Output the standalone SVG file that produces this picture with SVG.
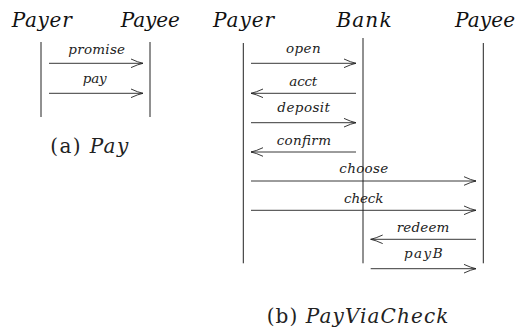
<svg xmlns="http://www.w3.org/2000/svg" width="524" height="333" viewBox="0 0 524 333">
<style>
.title{font-family:"DejaVu Serif",serif;font-style:italic;font-size:20px;fill:#111;text-anchor:middle}
.lbl{font-family:"DejaVu Serif",serif;font-style:italic;font-size:13.5px;fill:#222;text-anchor:middle}
.cap{font-family:"DejaVu Serif",serif;font-size:20px;fill:#222;text-anchor:middle}
.cap tspan.i{font-style:italic}
.life{stroke:#222;stroke-width:1;fill:none}
.msg{stroke:#222;stroke-width:0.9;fill:none;marker-end:url(#ah)}
</style>
<defs>
<marker id="ah" markerUnits="userSpaceOnUse" viewBox="-13 -5 14 10" refX="0" refY="0" markerWidth="14" markerHeight="10" orient="auto" overflow="visible">
<path d="M-12,-4.3 Q-5,-1 0,0 Q-5,1 -12,4.3" fill="none" stroke="#222" stroke-width="0.9"/>
</marker>
</defs>
<rect width="524" height="333" fill="#fff"/>
<g id="pay-diagram">
<g id="a-payer"><text class="title" x="41.7" y="26.7" textLength="60" lengthAdjust="spacing">Payer</text><line class="life" x1="41" y1="42" x2="41" y2="117"/></g>
<g id="a-payee"><text class="title" x="150.3" y="26.7" textLength="59" lengthAdjust="spacing">Payee</text><line class="life" x1="150" y1="42" x2="150" y2="117"/></g>
<g id="a-connectors">
<line class="msg" x1="49" y1="63.3" x2="143" y2="63.3"/>
<text class="lbl" x="96.7" y="53.5" textLength="56.7" lengthAdjust="spacing">promise</text>
<line class="msg" x1="49" y1="93.3" x2="143" y2="93.3"/>
<text class="lbl" x="94.7" y="83.3" textLength="24" lengthAdjust="spacing">pay</text>
</g>
<text id="a-caption" class="cap" x="89.2" y="153.3" textLength="78" lengthAdjust="spacing">(a) <tspan class="i">Pay</tspan></text>
</g>
<g id="payviacheck-diagram">
<g id="b-payer"><text class="title" x="243.5" y="26.7" textLength="61" lengthAdjust="spacing">Payer</text><line class="life" x1="243.3" y1="43" x2="243.3" y2="263.3"/></g>
<g id="b-bank"><text class="title" x="364" y="26.7" textLength="55" lengthAdjust="spacing">Bank</text><line class="life" x1="363" y1="38" x2="363" y2="263.3"/></g>
<g id="b-payee"><text class="title" x="485" y="26.7" textLength="60" lengthAdjust="spacing">Payee</text><line class="life" x1="483.3" y1="43" x2="483.3" y2="263.3"/></g>
<g id="b-connectors">
<line class="msg" x1="251" y1="63.3" x2="356" y2="63.3"/>
<text class="lbl" x="303.3" y="53.3" textLength="34.7" lengthAdjust="spacing">open</text>
<line class="msg" x1="356" y1="93.3" x2="251" y2="93.3"/>
<text class="lbl" x="303.3" y="86" textLength="28" lengthAdjust="spacing">acct</text>
<line class="msg" x1="251" y1="122.7" x2="356" y2="122.7"/>
<text class="lbl" x="303.7" y="112" textLength="52.7" lengthAdjust="spacing">deposit</text>
<line class="msg" x1="356" y1="152" x2="251" y2="152"/>
<text class="lbl" x="303.8" y="144.5" textLength="54.3" lengthAdjust="spacing">confirm</text>
<line class="msg" x1="251" y1="181" x2="476" y2="181"/>
<text class="lbl" x="363.8" y="173.3" textLength="49" lengthAdjust="spacing">choose</text>
<line class="msg" x1="251" y1="210.3" x2="476" y2="210.3"/>
<text class="lbl" x="363.7" y="202.5" textLength="39.3" lengthAdjust="spacing">check</text>
<line class="msg" x1="476" y1="239.3" x2="370.7" y2="239.3"/>
<text class="lbl" x="423" y="232.3" textLength="52.7" lengthAdjust="spacing">redeem</text>
<line class="msg" x1="370.7" y1="268.7" x2="476" y2="268.7"/>
<text class="lbl" x="423.3" y="257.5" textLength="38.7" lengthAdjust="spacing">payB</text>
</g>
<text id="b-caption" class="cap" x="357.5" y="323" textLength="181.7" lengthAdjust="spacing">(b) <tspan class="i">PayViaCheck</tspan></text>
</g>
</svg>
